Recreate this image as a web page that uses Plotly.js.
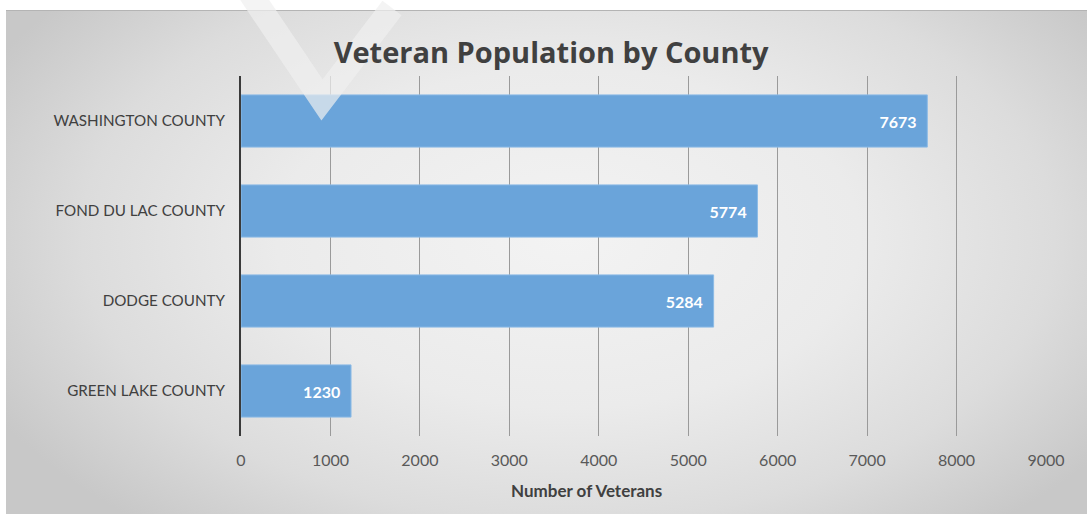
<!DOCTYPE html>
<html>
<head>
<meta charset="utf-8">
<script src="https://cdn.plot.ly/plotly-3.0.1.min.js"></script>
<style>
  html, body { margin:0; padding:0; background:#ffffff; }
  #frame { position:absolute; left:6px; top:10px; width:1081px; height:504px;
    border-top:1px solid #b4b4b4;
    background: radial-gradient(ellipse 60% 75% at 52% 45%, #f3f3f3 0%, #ebebeb 45%, #dcdcdc 75%, #c8c8c8 100%); }
  #chart { position:absolute; left:0; top:0; width:1087px; height:514px; }
</style>
</head>
<body>
<div id="frame"></div>
<div id="chart"></div>
<script>
const counties = ["WASHINGTON COUNTY", "FOND DU LAC COUNTY", "DODGE COUNTY", "GREEN LAKE COUNTY"];
const veterans = [7673, 5774, 5284, 1230];
const xTicks = [0, 1000, 2000, 3000, 4000, 5000, 6000, 7000, 8000, 9000];

const FONT = "Lato, 'Open Sans', sans-serif";
const TFONT = "'Open Sans', Lato, sans-serif";

const trace = {
  type: "bar",
  orientation: "h",
  x: veterans,
  y: counties,
  width: 0.58,
  marker: { color: "#6aa4da", line: { color: "#8cbbe6", width: 1 } },
  texttemplate: "%{x}\u00a0\u00a0",
  textposition: "inside",
  insidetextanchor: "end",
  textangle: 0,
  textfont: { family: FONT, size: 16, color: "#ffffff", weight: "bold" },
  hoverinfo: "skip"
};

const layout = {
  width: 1087, height: 514,
  margin: { l: 241, r: 41, t: 76, b: 78 },
  paper_bgcolor: "rgba(0,0,0,0)",
  plot_bgcolor: "rgba(0,0,0,0)",
  showlegend: false,
  title: { text: "<b>Veteran Population by County</b>", x: 0.507, xanchor: "center", y: 0.898, yanchor: "middle",
    font: { family: TFONT, size: 29, color: "#404040" } },
  xaxis: {
    range: [0, 9000], tickvals: xTicks, ticktext: xTicks.map(String),
    showgrid: true, gridcolor: "#9a9a9a", gridwidth: 1, zeroline: false, showline: false,
    ticks: "", ticklabelstandoff: 13,
    tickfont: { family: FONT, size: 16, color: "#595959" },
    fixedrange: true
  },
  yaxis: {
    type: "category", autorange: "reversed",
    showgrid: false, zeroline: false, showline: true, linecolor: "#3a3a3a", linewidth: 2,
    ticks: "", ticklabelstandoff: 11,
    tickfont: { family: FONT, size: 15.2, color: "#404040" },
    fixedrange: true
  },
  annotations: [{
    text: "<b>Number of Veterans</b>", xref: "paper", yref: "paper",
    x: (586 - 241) / 805, y: (436 - 491) / 360, xanchor: "center", yanchor: "middle",
    showarrow: false, font: { family: FONT, size: 17, color: "#404040" }
  }],
  shapes: [{
    type: "path", xref: "paper", yref: "paper", layer: "above",
    path: "M " + ((248 - 241) / 805) + " " + ((436 + 10) / 360) +
          " L " + ((322 - 241) / 805) + " " + ((436 - 100) / 360) +
          " L " + ((392 - 241) / 805) + " " + ((436 - 8) / 360),
    line: { color: "rgba(240,240,240,0.7)", width: 24 }
  }]
};

Plotly.newPlot("chart", [trace], layout, { displayModeBar: false, staticPlot: true });
</script>
</body>
</html>
